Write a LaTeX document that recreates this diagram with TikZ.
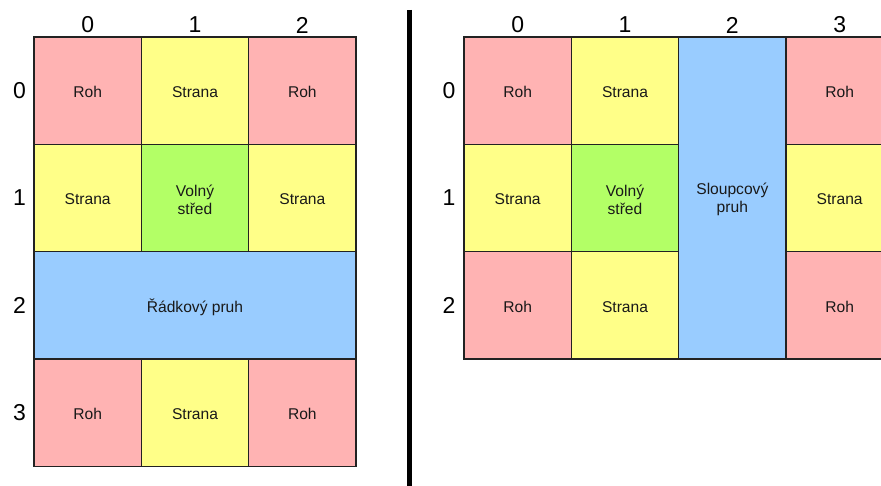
\documentclass[tikz,border=0pt]{standalone}
\usepackage{fontspec}
\setmainfont{Liberation Sans}
\definecolor{rohc}{RGB}{255,179,179}
\definecolor{stranac}{RGB}{255,255,136}
\definecolor{volnyc}{RGB}{179,255,102}
\definecolor{pruhc}{RGB}{153,204,255}
\definecolor{edgec}{RGB}{34,34,34}
\tikzset{
  cell/.style={draw=edgec, line width=1.4pt, minimum width=107.33pt, minimum height=107.33pt,
    inner sep=0pt},
  roh/.style={cell, fill=rohc},
  strana/.style={cell, fill=stranac},
  volny/.style={cell, fill=volnyc},
  pruh/.style={cell, fill=pruhc},
  txt/.style={font=\fontsize{15.6}{18}\selectfont, align=center, text=black!90, inner sep=0pt, yshift=-1.5pt},
  idx/.style={font=\fontsize{23}{23}\selectfont, inner sep=0pt},
}
\begin{document}
\begin{tikzpicture}[x=1pt,y=-1pt]
\useasboundingbox (0,0) rectangle (881,486);
\clip (0,0) rectangle (881,486);
% left grid
\node[roh]    (L00) at (87.67,90.67) {};
\node[strana] (L01) at (195,90.67) {};
\node[roh]    (L02) at (302.33,90.67) {};
\node[strana] (L10) at (87.67,198) {};
\node[volny]  (L11) at (195,198) {};
\node[strana] (L12) at (302.33,198) {};
\node[pruh, minimum width=322pt] (L2) at (195,305.33) {};
\node[roh]    (L30) at (87.67,412.67) {};
\node[strana] (L31) at (195,412.67) {};
\node[roh]    (L32) at (302.33,412.67) {};
\node[txt] (L00t) at (L00.center) {Roh};
\node[txt] (L01t) at (L01.center) {Strana};
\node[txt] (L02t) at (L02.center) {Roh};
\node[txt] (L10t) at (L10.center) {Strana};
\node[txt] (L11t) at (L11.center) {Volný\\střed};
\node[txt] (L12t) at (L12.center) {Strana};
\node[txt] (L2t)  at (L2.center)  {Řádkový pruh};
\node[txt] (L30t) at (L30.center) {Roh};
\node[txt] (L31t) at (L31.center) {Strana};
\node[txt] (L32t) at (L32.center) {Roh};
% left indices
\node[idx] (LC0) at (87.67,25) {0};
\node[idx] (LC1) at (195,25) {1};
\node[idx] (LC2) at (302.33,25) {2};
\node[idx] (LR0) at (19.5,90.67) {0};
\node[idx] (LR1) at (19.5,198) {1};
\node[idx] (LR2) at (19.5,305.33) {2};
\node[idx] (LR3) at (19.5,412.67) {3};
% divider
\coordinate (dtop) at (409.5,10);
\coordinate (dbot) at (409.5,486);
\draw[line width=4.5pt] (dtop) -- (dbot);
% right grid
\node[roh]    (R00) at (517.67,90.67) {};
\node[strana] (R01) at (625,90.67) {};
\node[roh]    (R03) at (839.67,90.67) {};
\node[strana] (R10) at (517.67,198) {};
\node[volny]  (R11) at (625,198) {};
\node[strana] (R13) at (839.67,198) {};
\node[roh]    (R20) at (517.67,305.33) {};
\node[strana] (R21) at (625,305.33) {};
\node[roh]    (R23) at (839.67,305.33) {};
\node[pruh, minimum height=322pt] (R2) at (732.33,198) {};
\node[txt] (R00t) at (R00.center) {Roh};
\node[txt] (R01t) at (R01.center) {Strana};
\node[txt] (R03t) at (R03.center) {Roh};
\node[txt] (R10t) at (R10.center) {Strana};
\node[txt] (R11t) at (R11.center) {Volný\\střed};
\node[txt] (R13t) at (R13.center) {Strana};
\node[txt] (R20t) at (R20.center) {Roh};
\node[txt] (R21t) at (R21.center) {Strana};
\node[txt] (R23t) at (R23.center) {Roh};
\node[txt] (R2t)  at (R2.center)  {Sloupcový\\pruh};
% right indices
\node[idx] (RC0) at (517.67,25) {0};
\node[idx] (RC1) at (625,25) {1};
\node[idx] (RC2) at (732.33,25) {2};
\node[idx] (RC3) at (839.67,25) {3};
\node[idx] (RR0) at (449,90.67) {0};
\node[idx] (RR1) at (449,198) {1};
\node[idx] (RR2) at (449,305.33) {2};
\end{tikzpicture}
\end{document}
